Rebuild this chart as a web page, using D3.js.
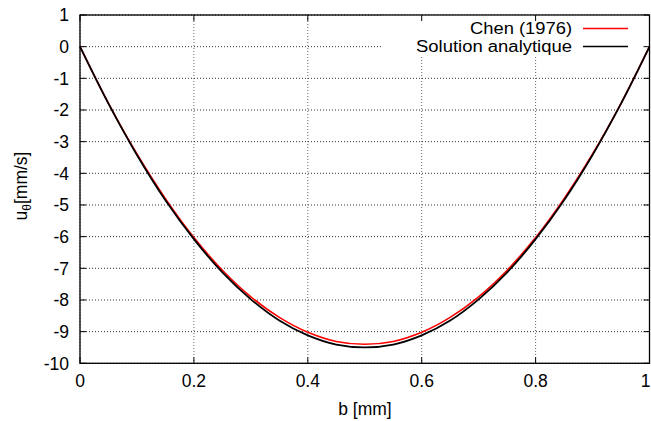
<!DOCTYPE html>
<html><head><meta charset="utf-8">
<script src="https://cdn.jsdelivr.net/npm/d3@7"></script>
<style>body{margin:0;background:#fff}svg{display:block}text{font-family:"Liberation Sans",Arial,sans-serif}</style>
</head><body>
<svg id="c" width="651" height="421"></svg>
<script>
const bValues = [0,0.05,0.1,0.15,0.2,0.25,0.3,0.35,0.4,0.45,0.5,0.55,0.6,0.65,0.7,0.75,0.8,0.85,0.9,0.95,1];
const analytique = [0,-1.80,-3.42,-4.85,-6.08,-7.13,-7.98,-8.65,-9.12,-9.41,-9.50,-9.41,-9.12,-8.65,-7.98,-7.13,-6.08,-4.85,-3.42,-1.80,0];
const chen = [0,-1.79,-3.39,-4.80,-6.03,-7.06,-7.90,-8.55,-9.02,-9.31,-9.40,-9.31,-9.02,-8.55,-7.90,-7.06,-6.03,-4.80,-3.39,-1.79,0];
const xTicks = [0,0.2,0.4,0.6,0.8,1];
const xTickLabels = ["0","0.2","0.4","0.6","0.8","1"];
const yTicks = [-10,-9,-8,-7,-6,-5,-4,-3,-2,-1,0,1];
const seriesNames = ["Chen (1976)","Solution analytique"];
const seriesColors = ["#ff0000","#000000"];

const L=80, R=649.5, T=15, B=363.3;
const svg=d3.select("#c");
const x=d3.scaleLinear().domain([0,1]).range([L,R]);
const y=d3.scaleLinear().domain([-10,1]).range([B,T]);
const fs=17.5;

// grid
const g=svg.append("g");
g.selectAll(".gx").data(xTicks).join("line").attr("x1",d=>x(d)).attr("x2",d=>x(d)).attr("y1",T).attr("y2",B)
 .attr("stroke","#666").attr("stroke-width",1).attr("stroke-dasharray","1,2");
g.selectAll(".gy").data(yTicks).join("line").attr("y1",d=>y(d)).attr("y2",d=>y(d)).attr("x1",L).attr("x2",R)
 .attr("stroke","#333").attr("stroke-width",1).attr("stroke-dasharray","1,2");

// legend background
svg.append("rect").attr("x",381).attr("y",T).attr("width",R-381).attr("height",40).attr("fill","#fff");

// ticks (inward, mirrored)
const tk=svg.append("g").attr("stroke","#000").attr("stroke-width",1);
xTicks.forEach(d=>{
  tk.append("line").attr("x1",x(d)).attr("x2",x(d)).attr("y1",B).attr("y2",B-6);
  tk.append("line").attr("x1",x(d)).attr("x2",x(d)).attr("y1",T).attr("y2",T+6);
});
yTicks.forEach(d=>{
  tk.append("line").attr("y1",y(d)).attr("y2",y(d)).attr("x1",L).attr("x2",L+6);
  tk.append("line").attr("y1",y(d)).attr("y2",y(d)).attr("x1",R).attr("x2",R-6);
});

// curves
const line=d3.line().x((d,i)=>x(bValues[i])).y(d=>y(d)).curve(d3.curveCatmullRom);
svg.append("path").attr("d",line(chen)).attr("fill","none").attr("stroke",seriesColors[0]).attr("stroke-width",1.6);
svg.append("path").attr("d",line(analytique)).attr("fill","none").attr("stroke",seriesColors[1]).attr("stroke-width",1.8);

// border
svg.append("rect").attr("x",L).attr("y",T).attr("width",R-L).attr("height",B-T).attr("fill","none").attr("stroke","#000").attr("stroke-width",1.3);

// tick labels
svg.selectAll(".xl").data(xTicks).join("text").attr("x",(d,i)=>i===xTicks.length-1?650.5:x(d)).attr("y",386.5)
 .attr("text-anchor",(d,i)=>i===xTicks.length-1?"end":"middle")
 .attr("font-size",fs).text((d,i)=>xTickLabels[i]);
svg.selectAll(".yl").data(yTicks).join("text").attr("x",69).attr("y",d=>y(d)+6.2).attr("text-anchor","end")
 .attr("font-size",fs).text(d=>d);

// axis titles
svg.append("text").attr("x",365).attr("y",415).attr("text-anchor","middle").attr("font-size",fs).text("b [mm]");
const yt=svg.append("text").attr("transform","translate(27,186) rotate(-90)").attr("text-anchor","middle").attr("font-size",fs);
yt.append("tspan").text("u");
yt.append("tspan").attr("font-size",12).attr("dy",4).text("θ");
yt.append("tspan").attr("dy",-4).text("[mm/s]");

// legend
const ly=[28.5,46.5];
const lw=[102,156];
seriesNames.forEach((n,i)=>{
  svg.append("text").attr("x",572-lw[i]).attr("y",ly[i]+5.8).attr("font-size",16)
    .attr("textLength",lw[i]).attr("lengthAdjust","spacingAndGlyphs").text(n);
  svg.append("line").attr("x1",583).attr("x2",628).attr("y1",ly[i]).attr("y2",ly[i]).attr("stroke",seriesColors[i]).attr("stroke-width",1.6);
});
</script>
</body></html>
